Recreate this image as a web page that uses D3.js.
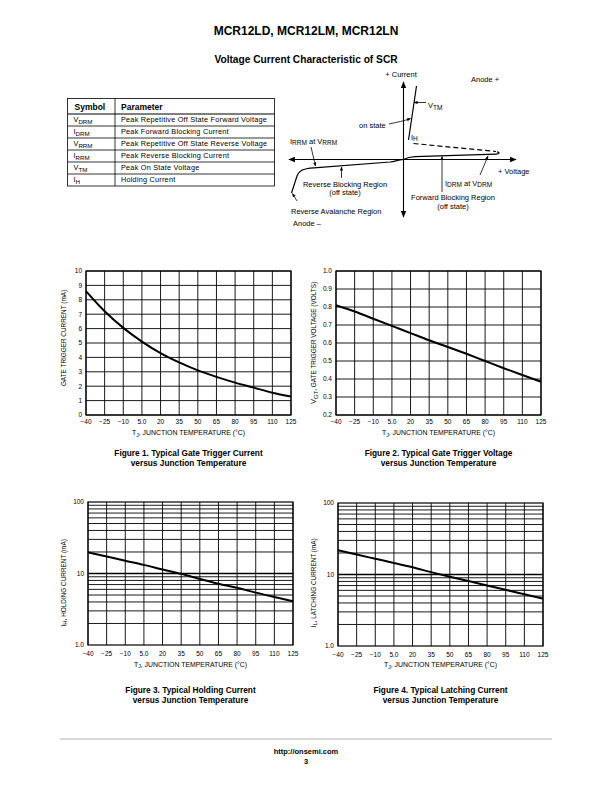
<!DOCTYPE html>
<html><head><meta charset="utf-8">
<script src="https://cdn.jsdelivr.net/npm/d3@7/dist/d3.min.js"></script>
<style>
body{margin:0;background:#fff}
svg{display:block}
text{font-family:"Liberation Sans",Arial,Helvetica,sans-serif;fill:#000}
</style></head><body>
<svg id="page" width="612" height="792"></svg>
<script>
// ---------- data ----------
const temps = [-40,-25,-10,5,20,35,50,65,80,95,110,125];
const tempLabels = ["\u221240","\u221225","\u221210","5.0","20","35","50","65","80","95","110","125"];
const gateCurrent = [8.6,7.2,6.05,5.1,4.3,3.65,3.1,2.65,2.25,1.9,1.55,1.28];
const gateVoltage = [0.81,0.775,0.735,0.695,0.655,0.615,0.578,0.54,0.5,0.46,0.422,0.385];
const holdingCurrent = [19.8,17.3,15.1,13.2,11.4,9.9,8.4,7.2,6.3,5.4,4.7,4.1];
const latchingCurrent = [21.8,19.0,16.6,14.5,12.6,10.8,9.3,8.1,7.0,6.1,5.3,4.6];
const fig1Ticks = [0,1,2,3,4,5,6,7,8,9,10];
const fig2Ticks = [0.2,0.3,0.4,0.5,0.6,0.7,0.8,0.9,1.0];
const logTickLabels = [[1,"1.0"],[10,"10"],[100,"100"]];
const tableSymbols = [["V","DRM"],["I","DRM"],["V","RRM"],["I","RRM"],["V","TM"],["I","H"]];
const tableParams = ["Peak Repetitive Off State Forward Voltage","Peak Forward Blocking Current",
  "Peak Repetitive Off State Reverse Voltage","Peak Reverse Blocking Current",
  "Peak On State Voltage","Holding Current"];

const svg = d3.select("#page");

// ---------- header ----------
svg.append("text").attr("x",306).attr("y",35).attr("text-anchor","middle")
  .attr("font-size",12).attr("font-weight","bold").text("MCR12LD, MCR12LM, MCR12LN");
svg.append("text").attr("x",306).attr("y",62.5).attr("text-anchor","middle")
  .attr("font-size",10.2).attr("font-weight","bold").text("Voltage Current Characteristic of SCR");

// ---------- table ----------
(function(){
  const x0=67.5,x1=274.5,xd=115,yTop=98.5,yHead=114,rowH=12;
  const g=svg.append("g");
  const yBot=yHead+rowH*tableParams.length;
  g.append("rect").attr("x",x0).attr("y",yTop).attr("width",x1-x0).attr("height",yBot-yTop)
    .attr("fill","none").attr("stroke","#000").attr("stroke-width",0.8);
  g.append("line").attr("x1",xd).attr("x2",xd).attr("y1",yTop).attr("y2",yBot).attr("stroke","#000").attr("stroke-width",0.8);
  g.append("line").attr("x1",x0).attr("x2",x1).attr("y1",yHead).attr("y2",yHead).attr("stroke","#000").attr("stroke-width",1.2);
  for(let i=1;i<tableParams.length;i++){
    g.append("line").attr("x1",x0).attr("x2",x1).attr("y1",yHead+i*rowH).attr("y2",yHead+i*rowH).attr("stroke","#000").attr("stroke-width",0.8);
  }
  g.append("text").attr("x",x0+7).attr("y",yHead-4.5).attr("font-size",8.5).attr("font-weight","bold").text("Symbol");
  g.append("text").attr("x",xd+6).attr("y",yHead-4.5).attr("font-size",8.5).attr("font-weight","bold").text("Parameter");
  tableSymbols.forEach((s,i)=>{
    const t=g.append("text").attr("x",x0+6).attr("y",yHead+i*rowH+8).attr("font-size",7.3);
    t.append("tspan").text(s[0]);
    t.append("tspan").attr("dy",1.5).attr("font-size",6.2).text(s[1]);
  });
  tableParams.forEach((p,i)=>{
    g.append("text").attr("x",xd+6).attr("y",yHead+i*rowH+8).attr("font-size",7.3).attr("letter-spacing",0.22).text(p);
  });
})();

// ---------- SCR diagram ----------
(function(){
  const g=svg.append("g");
  const defs=svg.append("defs");
  defs.append("marker").attr("id","ah").attr("viewBox","0 0 10 10").attr("refX",9).attr("refY",5)
    .attr("markerWidth",6).attr("markerHeight",6).attr("orient","auto-start-reverse")
    .append("path").attr("d","M0,1 L10,5 L0,9 Z").attr("fill","#000");
  defs.append("marker").attr("id","ahs").attr("viewBox","0 0 10 10").attr("refX",9).attr("refY",5)
    .attr("markerWidth",5).attr("markerHeight",5).attr("orient","auto-start-reverse")
    .append("path").attr("d","M0,1 L10,5 L0,9 Z").attr("fill","#000");
  const ox=403.5, oy=159.5;
  g.append("line").attr("x1",289).attr("x2",516).attr("y1",oy).attr("y2",oy).attr("stroke","#000").attr("stroke-width",1.1)
    .attr("marker-start","url(#ah)").attr("marker-end","url(#ah)");
  g.append("line").attr("x1",ox).attr("x2",ox).attr("y1",82).attr("y2",217).attr("stroke","#000").attr("stroke-width",1.1)
    .attr("marker-start","url(#ah)").attr("marker-end","url(#ah)");
  const ln=d=>g.append("path").attr("d",d).attr("fill","none").attr("stroke","#000").attr("stroke-width",1.2);
  ln("M403.5,159.5 C398,160 396,161 390,162 L314,167.8 C302,168.5 299,171 297,176 L291.5,193");
  ln("M403.5,159.5 C407,157.5 410,156.8 415,156.6 L496,154.2 C500,154 500,152.5 497,151.8");
  g.append("path").attr("d","M413.5,143.5 L496,151.5").attr("fill","none").attr("stroke","#000").attr("stroke-width",1.2).attr("stroke-dasharray","5,3");
  ln("M408.5,140 L416.5,86");
  const arr=d=>g.append("path").attr("d",d).attr("fill","none").attr("stroke","#000").attr("stroke-width",0.8).attr("marker-end","url(#ahs)");
  arr("M426,102.5 L414,102.5");
  arr("M389,124 C398,122 404,121 410.5,118.5");
  arr("M311,147 L315.5,166");
  arr("M341.5,178 L341.5,167");
  arr("M442,192 L442,156.5");
  arr("M480,175 L488,156");
  arr("M297,201 L292.5,193.5");
  const fs=7.5, sfs=6.5;
  const tx=(x,y,parts,anchor)=>{
    const t=g.append("text").attr("x",x).attr("y",y).attr("font-size",fs).attr("text-anchor",anchor||"start");
    let sub=false;
    parts.forEach(p=>{
      if(typeof p==="string"){ t.append("tspan").attr("dy",sub?-1.6:0).text(p); sub=false; }
      else { t.append("tspan").attr("font-size",sfs).attr("dy",1.6).text(p); sub=true; }
    });
    return t;
  };
  tx(401,76.5,["+ Current"],"middle");
  tx(471,82,["Anode +"]);
  tx(428,108,["V",["TM"]]);
  tx(359,127.5,["on state"]);
  tx(411,139.5,["I",["H"]]);
  tx(290,143.5,["I",["RRM"]," at V",["RRM"]]);
  tx(498,173.5,["+ Voltage"]);
  tx(445,185.5,["I",["DRM"]," at V",["DRM"]]);
  tx(345,186.5,["Reverse Blocking Region"],"middle");
  tx(345,195,["(off state)"],"middle");
  tx(453,199.5,["Forward Blocking Region"],"middle");
  tx(453,208.5,["(off state)"],"middle");
  tx(291,213.5,["Reverse Avalanche Region"]);
  tx(293,226,["Anode \u2013"]);
})();

// ---------- charts ----------
function chart(o){
  const g=svg.append("g");
  const x=d3.scalePoint().domain(temps).range([o.x0,o.x1]);
  const y=(o.log?d3.scaleLog():d3.scaleLinear()).domain(o.domain).range([o.y1,o.y0]);
  let gridVals;
  if(o.log){ gridVals=[]; for(let d=1;d<100;d*=10) for(let k=2;k<=9;k++) gridVals.push(d*k); gridVals.push(10); }
  else gridVals=o.ticks;
  g.append("g").selectAll("line").data(gridVals).join("line")
    .attr("x1",o.x0).attr("x2",o.x1).attr("y1",d=>y(d)).attr("y2",d=>y(d))
    .attr("stroke","#000").attr("stroke-width",d=>(o.log&&d===10)?1.3:0.9);
  g.append("g").selectAll("line").data(temps).join("line")
    .attr("x1",d=>x(d)).attr("x2",d=>x(d)).attr("y1",o.y0).attr("y2",o.y1)
    .attr("stroke","#000").attr("stroke-width",0.9);
  g.append("rect").attr("x",o.x0).attr("y",o.y0).attr("width",o.x1-o.x0).attr("height",o.y1-o.y0)
    .attr("fill","none").attr("stroke","#000").attr("stroke-width",1.2);
  const yl=o.log?logTickLabels:o.ticks.map(v=>[v,o.fmt(v)]);
  g.append("g").selectAll("text").data(yl).join("text")
    .attr("x",o.x0-4).attr("y",d=>y(d[0])+2.3).attr("text-anchor","end").attr("font-size",6.5).text(d=>d[1]);
  g.append("g").selectAll("text").data(temps).join("text")
    .attr("x",d=>x(d)).attr("y",o.y1+o.tickDy).attr("text-anchor","middle").attr("font-size",6.5)
    .text((d,i)=>tempLabels[i]);
  const cx=(o.x0+o.x1)/2;
  const xt=g.append("text").attr("x",cx).attr("y",o.y1+o.titleDy).attr("text-anchor","middle").attr("font-size",6.9);
  xt.append("tspan").text("T"); xt.append("tspan").attr("dy",1.5).attr("font-size",5.2).text("J");
  xt.append("tspan").attr("dy",-1.5).text(", JUNCTION TEMPERATURE (\u00B0C)");
  const yt=g.append("text").attr("transform",`translate(${o.ylx},${o.yly}) rotate(-90)`).attr("text-anchor","middle").attr("font-size",6.4);
  if(o.ysym){
    yt.append("tspan").attr("font-size",7.5).text(o.ysym[0]);
    yt.append("tspan").attr("dy",1.8).attr("font-size",6).text(o.ysym[1]);
    yt.append("tspan").attr("dy",-1.8).text(o.ytitle);
  } else yt.text(o.ytitle);
  o.caption.forEach((c,i)=>g.append("text").attr("x",cx).attr("y",o.y1+o.capDy+i*10).attr("text-anchor","middle")
    .attr("font-size",8.3).attr("font-weight","bold").text(c));
  const line=d3.line().x((d,i)=>x(temps[i])).y(d=>y(d)).curve(d3.curveMonotoneX);
  g.append("path").attr("d",line(o.values)).attr("fill","none").attr("stroke","#000").attr("stroke-width",2);
}

chart({x0:86,x1:291,y0:271,y1:415,domain:[0,10],ticks:fig1Ticks,fmt:d=>String(d),values:gateCurrent,
  tickDy:8.5,titleDy:20,capDy:40.5,ylx:65.5,yly:338,ytitle:"GATE TRIGGER CURRENT (mA)",
  caption:["Figure 1. Typical Gate Trigger Current","versus Junction Temperature"]});
chart({x0:336,x1:541,y0:271,y1:415,domain:[0.2,1.0],ticks:fig2Ticks,fmt:d=>d.toFixed(1),values:gateVoltage,
  tickDy:8.5,titleDy:20,capDy:40.5,ylx:316,yly:343,ysym:["V","GT"],ytitle:", GATE TRIGGER VOLTAGE (VOLTS)",
  caption:["Figure 2. Typical Gate Trigger Voltage","versus Junction Temperature"]});
chart({x0:88,x1:293,y0:502,y1:645,domain:[1,100],log:true,values:holdingCurrent,
  tickDy:10.5,titleDy:21.5,capDy:47.5,ylx:65.5,yly:583,ysym:["I","H"],ytitle:", HOLDING CURRENT (mA)",
  caption:["Figure 3. Typical Holding Current","versus Junction Temperature"]});
chart({x0:338,x1:543,y0:503,y1:646,domain:[1,100],log:true,values:latchingCurrent,
  tickDy:10.5,titleDy:21,capDy:46.5,ylx:315.5,yly:583,ysym:["I","L"],ytitle:", LATCHING CURRENT (mA)",
  caption:["Figure 4. Typical Latching Current","versus Junction Temperature"]});

// ---------- footer ----------
svg.append("line").attr("x1",60).attr("x2",552).attr("y1",739).attr("y2",739).attr("stroke","#b3b3b3").attr("stroke-width",1.2);
svg.append("text").attr("x",306).attr("y",754).attr("text-anchor","middle").attr("font-size",7.5).attr("font-weight","bold").text("http://onsemi.com");
svg.append("text").attr("x",306).attr("y",764).attr("text-anchor","middle").attr("font-size",7.5).attr("font-weight","bold").text("3");
</script>
</body></html>
